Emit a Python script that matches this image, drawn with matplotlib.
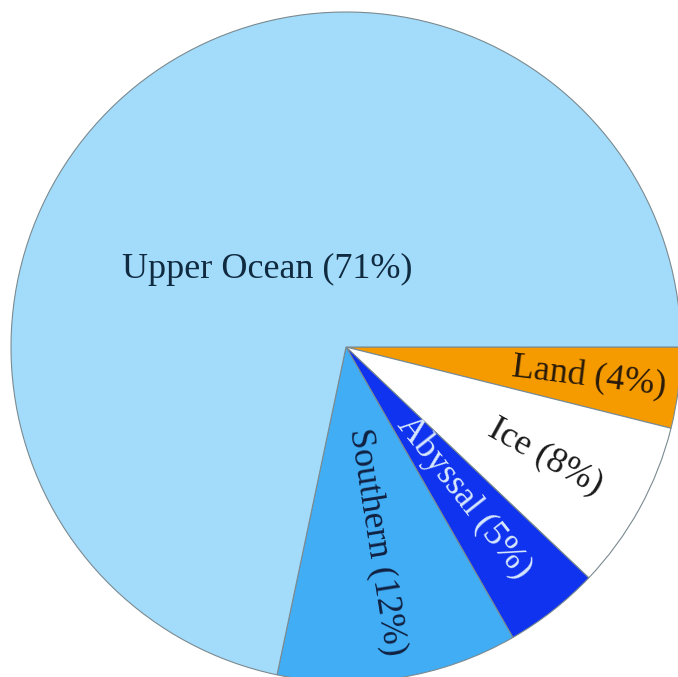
import matplotlib
matplotlib.use('Agg')
import matplotlib.pyplot as plt
import numpy as np

# slice shares (clockwise from 3 o'clock)
names = ['Land', 'Ice', 'Abyssal', 'Southern', 'Upper Ocean']
shares = [3.9, 8.2, 4.6, 11.6, 71.7]
labels = ['Land (4%)', 'Ice (8%)', 'Abyssal (5%)', 'Southern (12%)', 'Upper Ocean (71%)']
colors = ['#f59b00', '#ffffff', '#0f33ee', '#40adf5', '#a3dcfb']
text_colors = ['#2a1a0a', '#1a1a1a', '#d8e8ff', '#102040', '#102a40']

plt.rcParams['font.family'] = ['Liberation Serif', 'DejaVu Serif']

fig = plt.figure(figsize=(6.78, 6.77), dpi=100)
ax = fig.add_axes([0, 0, 1, 1])
wedges, _ = ax.pie(shares, colors=colors, startangle=0, counterclock=False,
                   radius=1.0, center=(0, 0),
                   wedgeprops=dict(edgecolor='#7a8a90', linewidth=0.8))

# label placement: radius from centre, rotate along the slice middle
total = float(sum(shares))
start = 0.0
label_r = [0.73, 0.68, 0.57, 0.59]
for i, (lab, sh) in enumerate(zip(labels, shares)):
    mid = start - sh / total * 360.0 / 2
    start -= sh / total * 360.0
    if i < 4:
        a = np.deg2rad(mid)
        ax.text(label_r[i] * np.cos(a), label_r[i] * np.sin(a), lab,
                rotation=mid, rotation_mode='anchor', ha='center', va='center',
                fontsize=26, color=text_colors[i])
    else:
        ax.text(-0.235, 0.23, lab, ha='center', va='center',
                fontsize=26, color=text_colors[i])

ax.set_xlim(-346 / 335.0, (678 - 346) / 335.0)
ax.set_ylim(-(677 - 347) / 335.0, 347 / 335.0)
ax.set_aspect('auto')
ax.axis('off')
fig.savefig('out.png', dpi=100)
